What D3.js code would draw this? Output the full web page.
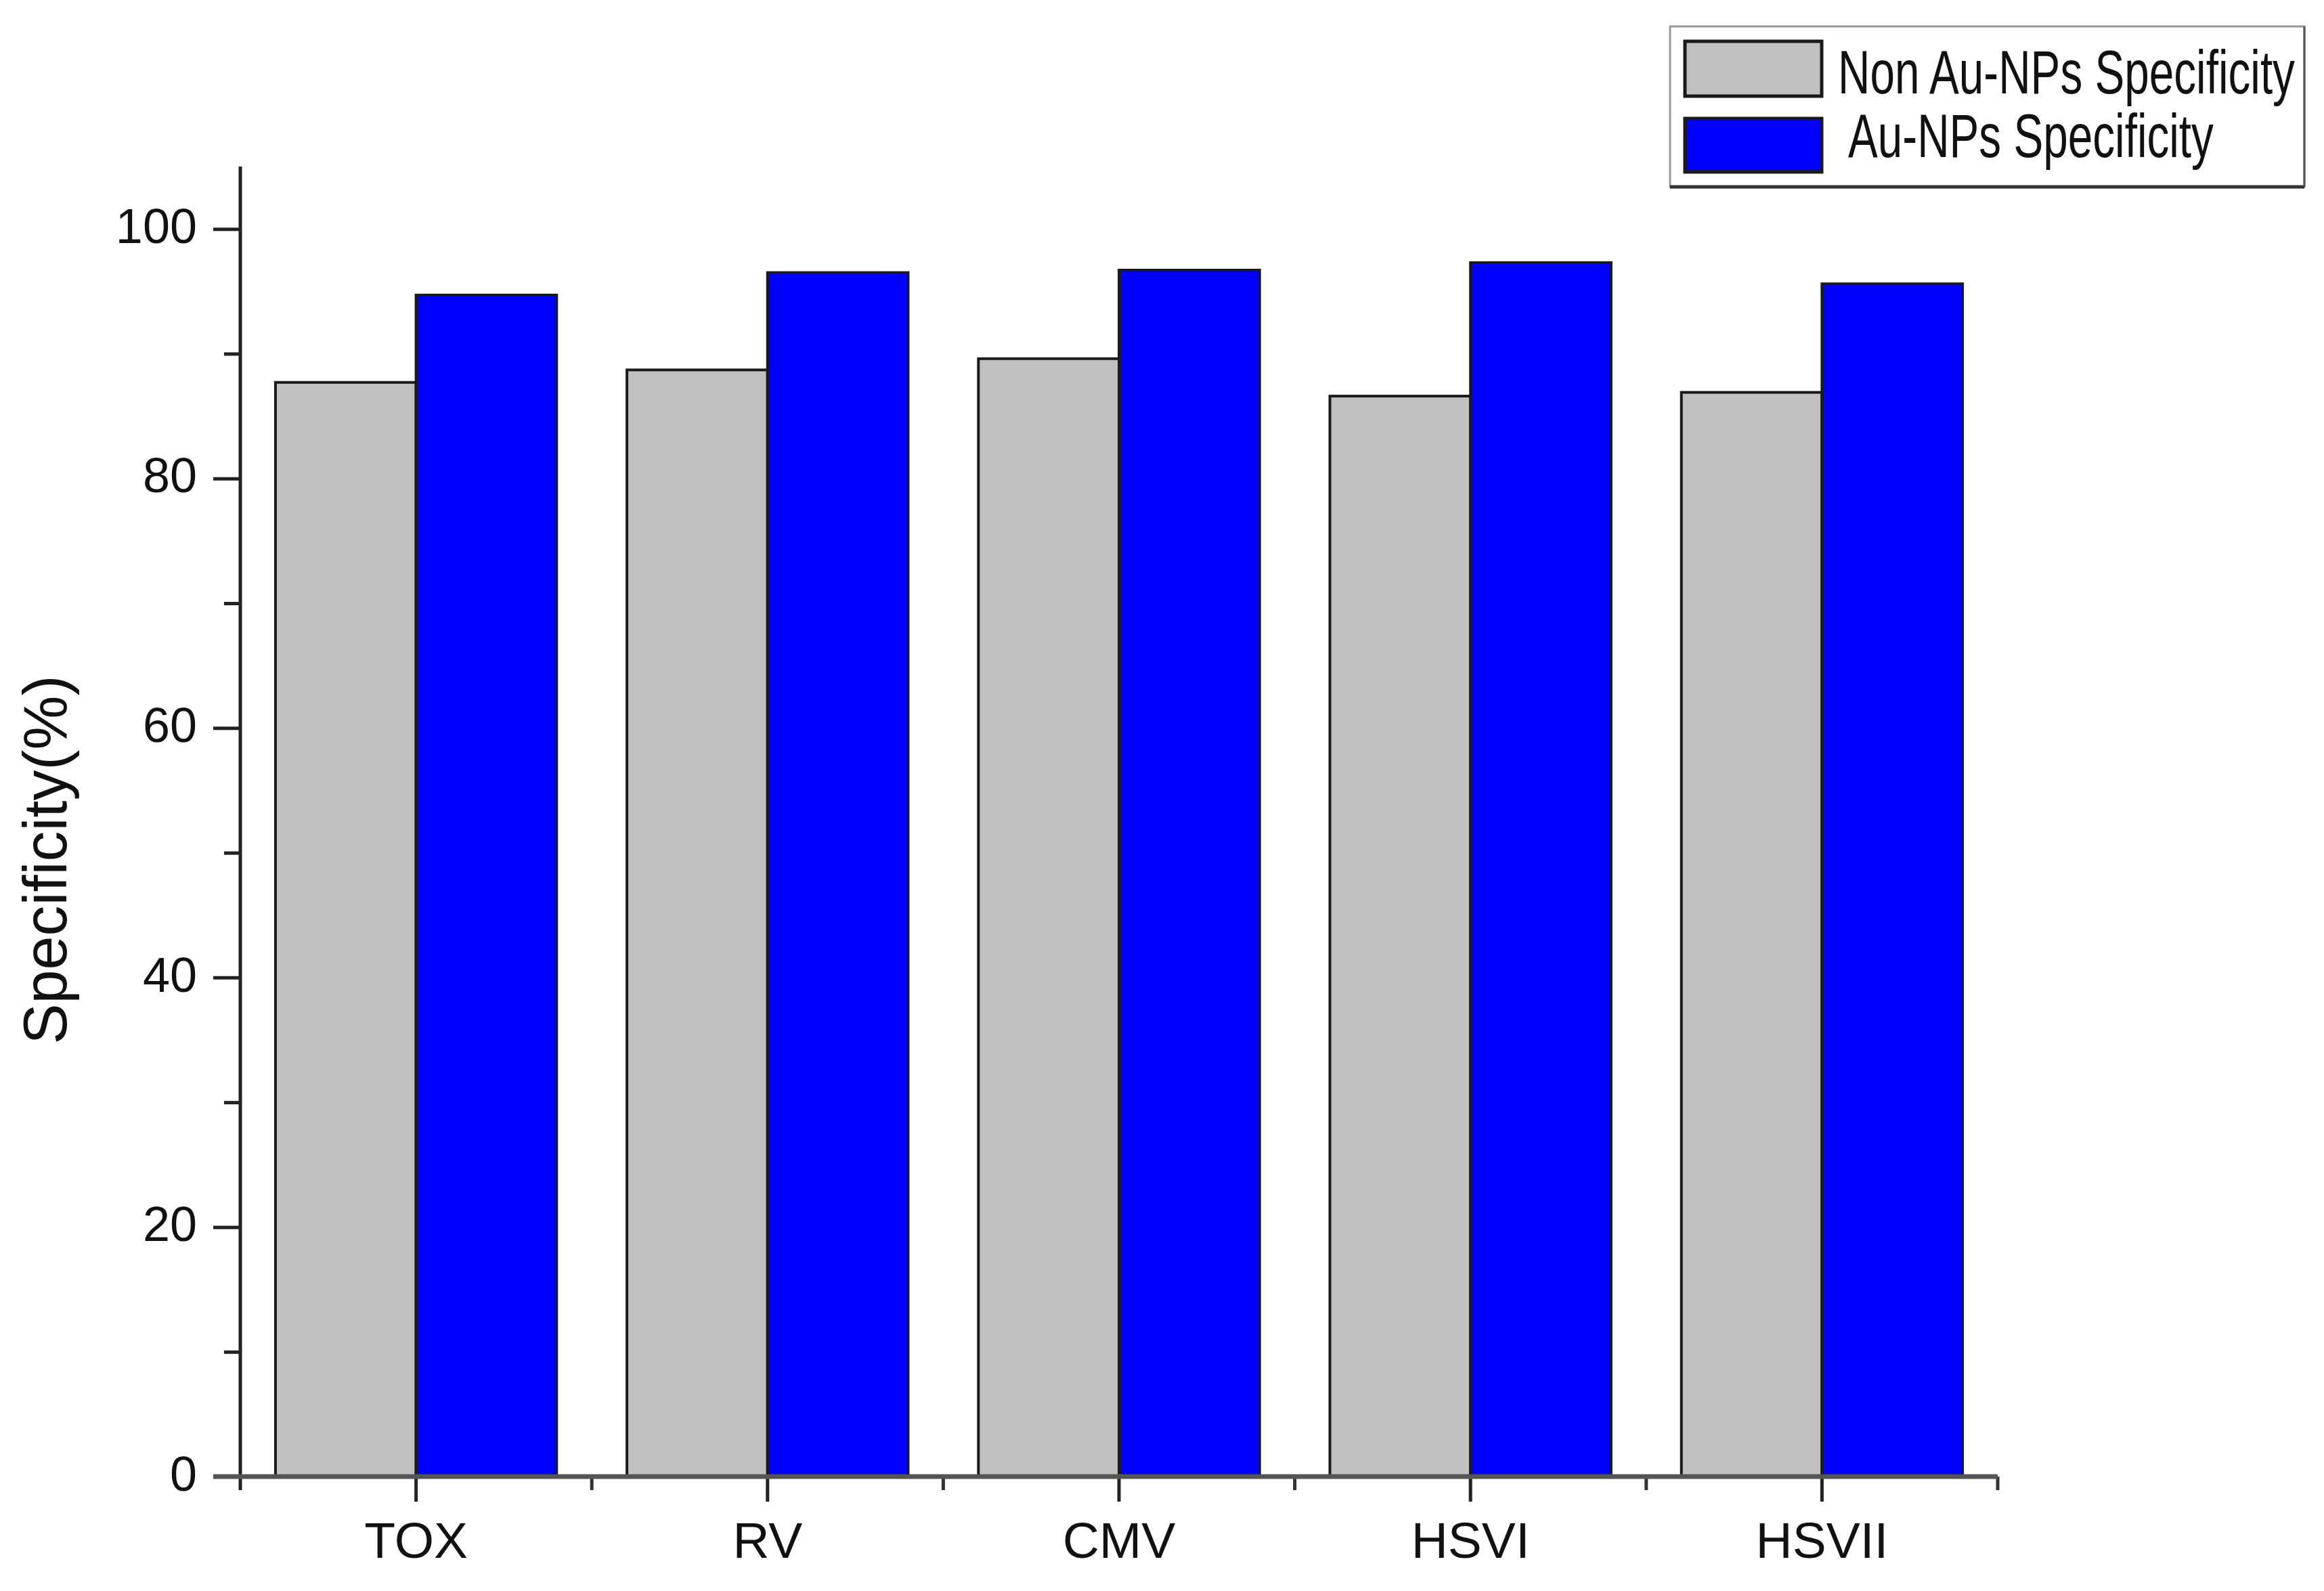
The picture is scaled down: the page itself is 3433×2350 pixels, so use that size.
<!DOCTYPE html>
<html>
<head>
<meta charset="utf-8">
<script src="https://cdn.jsdelivr.net/npm/d3@7"></script>
<style>
  html, body { margin: 0; padding: 0; background: #fff; }
  svg { display: block; }
  text { font-family: "Liberation Sans", Arial, sans-serif; fill: #111; }
</style>
</head>
<body>
<svg id="chart" width="3433" height="2350"></svg>
<script>
// ---- data ----
const categories = ["TOX", "RV", "CMV", "HSVI", "HSVII"];
const seriesNames = ["Non Au-NPs Specificity", "Au-NPs Specificity"];
const nonAuValues = [87.7, 88.7, 89.6, 86.6, 86.9];
const auValues = [94.7, 96.5, 96.7, 97.3, 95.6];
const seriesColors = ["#c0c0c0", "#0000ff"];
const yTickValues = [0, 20, 40, 60, 80, 100];
const yMinorTickValues = [10, 30, 50, 70, 90];
const yLabel = "Specificity(%)";

(function () {
const seriesValues = [nonAuValues, auValues];
const rows = categories.map((c, i) => ({
  category: c,
  values: seriesNames.map((s, j) => ({ series: s, value: seriesValues[j][i], color: seriesColors[j] }))
}));

// ---- layout ----
const svg = d3.select("#chart");
const pLeft = 355, pRight = 2951, pTop = 246, pBottom = 2181;

const x0 = d3.scaleBand().domain(categories).range([pLeft, pRight]).padding(0);
const bw = x0.bandwidth();
const x1 = d3.scaleBand().domain(seriesNames).range([0.1 * bw, 0.9 * bw]).padding(0);
const y = d3.scaleLinear().domain([0, 105]).range([pBottom, pTop]);

// ---- bars ----
const groups = svg.append("g").selectAll("g").data(rows).join("g")
  .attr("transform", d => `translate(${x0(d.category)},0)`);
groups.selectAll("rect").data(d => d.values).join("rect")
  .attr("x", d => x1(d.series))
  .attr("y", d => y(d.value))
  .attr("width", x1.bandwidth())
  .attr("height", d => y(0) - y(d.value))
  .attr("fill", d => d.color)
  .attr("stroke", "#1a1a1a")
  .attr("stroke-width", 4);

// ---- y axis ----
const yAxisG = svg.append("g").attr("transform", `translate(${pLeft},0)`);
yAxisG.call(d3.axisLeft(y).tickValues(yTickValues).tickSize(40).tickPadding(24).tickFormat(d3.format("d")));
yAxisG.select(".domain").remove();
yAxisG.selectAll(".tick line").attr("stroke", "#222").attr("stroke-width", 5);
yAxisG.selectAll(".tick text")
  .attr("font-size", 72).attr("font-family", "Liberation Sans, Arial, sans-serif")
  .attr("fill", "#111").attr("dy", "0.28em");
const yMinorG = svg.append("g").attr("transform", `translate(${pLeft},0)`);
yMinorG.call(d3.axisLeft(y).tickValues(yMinorTickValues).tickSize(24).tickFormat(""));
yMinorG.select(".domain").remove();
yMinorG.selectAll(".tick line").attr("stroke", "#222").attr("stroke-width", 5);
svg.append("line")
  .attr("x1", pLeft).attr("x2", pLeft)
  .attr("y1", y(105)).attr("y2", y(0) + 20)
  .attr("stroke", "#222").attr("stroke-width", 5);

// ---- x axis ----
const xAxisG = svg.append("g").attr("transform", `translate(0,${pBottom})`);
xAxisG.call(d3.axisBottom(x0).tickSize(37).tickPadding(30));
xAxisG.select(".domain").remove();
xAxisG.selectAll(".tick line").attr("stroke", "#222").attr("stroke-width", 5);
xAxisG.selectAll(".tick text")
  .attr("font-size", 75).attr("font-family", "Liberation Sans, Arial, sans-serif")
  .attr("fill", "#111");
// minor ticks at band boundaries
const boundaries = categories.map(c => x0(c)).concat([pRight]);
svg.append("g").selectAll("line").data(boundaries.slice(1)).join("line")
  .attr("x1", d => d).attr("x2", d => d)
  .attr("y1", pBottom).attr("y2", pBottom + 20)
  .attr("stroke", "#333").attr("stroke-width", 5);
svg.append("line")
  .attr("x1", pLeft - 40).attr("x2", pRight)
  .attr("y1", pBottom).attr("y2", pBottom)
  .attr("stroke", "#555").attr("stroke-width", 7);

// ---- y label ----
svg.append("text")
  .attr("transform", `translate(98,1270) rotate(-90)`)
  .attr("text-anchor", "middle")
  .attr("font-size", 90)
  .text(yLabel);

// ---- legend ----
const lg = svg.append("g");
lg.append("rect").attr("x", 2467).attr("y", 39).attr("width", 937).attr("height", 237)
  .attr("fill", "#fff").attr("stroke", "#999").attr("stroke-width", 3);
lg.append("line").attr("x1", 2467).attr("x2", 3404).attr("y1", 276).attr("y2", 276)
  .attr("stroke", "#333").attr("stroke-width", 5);
lg.append("line").attr("x1", 3404).attr("x2", 3404).attr("y1", 39).attr("y2", 276)
  .attr("stroke", "#555").attr("stroke-width", 3);
const legendItems = [
  { name: seriesNames[0], color: seriesColors[0], sy: 61, sh: 81, tx: 2715, ty: 138, tl: 675 },
  { name: seriesNames[1], color: seriesColors[1], sy: 175, sh: 79, tx: 2730, ty: 232, tl: 540 }
];
legendItems.forEach(it => {
  lg.append("rect").attr("x", 2489).attr("y", it.sy).attr("width", 202).attr("height", it.sh)
    .attr("fill", it.color).attr("stroke", "#1a1a1a").attr("stroke-width", 5);
  const t = lg.append("text")
    .attr("font-size", 90)
    .text(it.name);
  const natural = t.node().getComputedTextLength();
  t.attr("transform", `translate(${it.tx},${it.ty}) scale(${it.tl / natural},1)`);
});
})();
</script>
</body>
</html>
